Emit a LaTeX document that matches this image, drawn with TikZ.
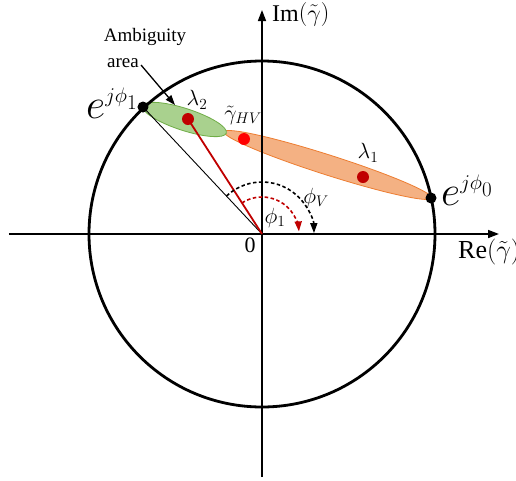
\RequirePackage{fix-cm}
\documentclass[tikz,border=0pt]{standalone}
\usepackage{fontspec}
\setmainfont{Liberation Serif}
\usetikzlibrary{arrows.meta,shapes.geometric,calc}
\definecolor{grfill}{HTML}{A9D18E}
\definecolor{grline}{HTML}{70AD47}
\definecolor{orfill}{HTML}{F4B183}
\definecolor{orline}{HTML}{ED7D31}
\definecolor{dred}{HTML}{C00000}
\definecolor{bred}{HTML}{FF0000}
\tikzset{
  axisline/.style={line width=1.6pt,-{Triangle[length=11pt,width=8pt]}},
  blob/.style={ellipse,inner sep=0pt,line width=0.8pt},
  dot/.style={circle,inner sep=0pt,minimum size=12pt},
  bdot/.style={circle,fill=black,inner sep=0pt,minimum size=11pt},
  lbl/.style={inner sep=0pt},
  big/.style={font=\fontsize{42}{48}\selectfont},
  mid/.style={font=\fontsize{22}{26}\selectfont},
  arcarrow/.style={line width=1.6pt,dash pattern=on 3.5pt off 2.5pt,-{Triangle[length=10pt,width=7pt]}},
}
\begin{document}
\begin{tikzpicture}[x=1pt,y=1pt]
\useasboundingbox (-262,-246) rectangle (254,234);
\coordinate (O) at (0,0);
% regions
\node[blob,draw=orline,fill=orfill,minimum width=218pt,minimum height=20pt,rotate=-17.7] (orr) at (66,69) {};
\node[blob,draw=grline,fill=grfill,minimum width=88pt,minimum height=22pt,rotate=-18] (amb) at (-77.5,114.5) {};
% axes
\coordinate (xl) at (-253,0);
\coordinate (xr) at (237,0);
\coordinate (yb) at (0,-243);
\coordinate (yt) at (0,224);
\draw[axisline] (xl) -- (xr);
\draw[axisline] (yb) -- (yt);
% unit circle
\draw[line width=2.8pt] (O) circle (173);
% points on circle
\node[bdot] (P1) at (-119,127) {};
\node[bdot] (P0) at (169,36) {};
% dots
\node[dot,fill=dred] (L2) at (-74,115) {};
\node[dot,fill=bred] (G) at (-18,95) {};
\node[dot,fill=dred] (L1) at (101,57) {};
% lines
\draw[line width=0.9pt] (O) -- (P1.center);
\draw[dred,line width=1.8pt] (O) -- (L2.center);
% angle arcs
\draw[arcarrow] ($(O)+(133:52)$) arc[start angle=133,end angle=1,radius=52];
\draw[arcarrow,dred] ($(O)+(123:37)$) arc[start angle=123,end angle=4,radius=37];
% labels
\node[lbl,big,anchor=base west] (e1) at (-176,116) {$e^{\scriptscriptstyle j\phi_1}$};
\node[lbl,big,anchor=base west] (e0) at (179,29) {$e^{\scriptscriptstyle j\phi_0}$};
\node[lbl,mid] (tl2) at (-65,134) {$\lambda_2$};
\node[lbl,mid] (tl1) at (106,81) {$\lambda_1$};
\node[lbl,mid] (tg) at (-19,119) {$\tilde{\gamma}_{HV}$};
\node[lbl,mid] (tpv) at (54,36) {$\phi_V$};
\node[lbl,mid] (tp1) at (13,16) {$\phi_1$};
\node[lbl,mid] (t0) at (-12,-11) {0};
\node[lbl,font=\fontsize{19}{22}\selectfont] (amb1) at (-117,197) {Ambiguity};
\node[lbl,font=\fontsize{19}{22}\selectfont] (amb2) at (-139,171) {area};
\node[lbl,font=\fontsize{24}{28}\selectfont,anchor=west] (im) at (10,219) {Im$\left(\tilde{\gamma}\right)$};
\node[lbl,font=\fontsize{26}{30}\selectfont,anchor=west] (re) at (196,-18) {Re$\left(\tilde{\gamma}\right)$};
% ambiguity arrow
\coordinate (ambtip) at (-87,129);
\draw[line width=1.3pt,-{Triangle[length=10pt,width=7pt]}] (amb2.east) ++(2,-2) -- (ambtip);
\end{tikzpicture}
\end{document}
